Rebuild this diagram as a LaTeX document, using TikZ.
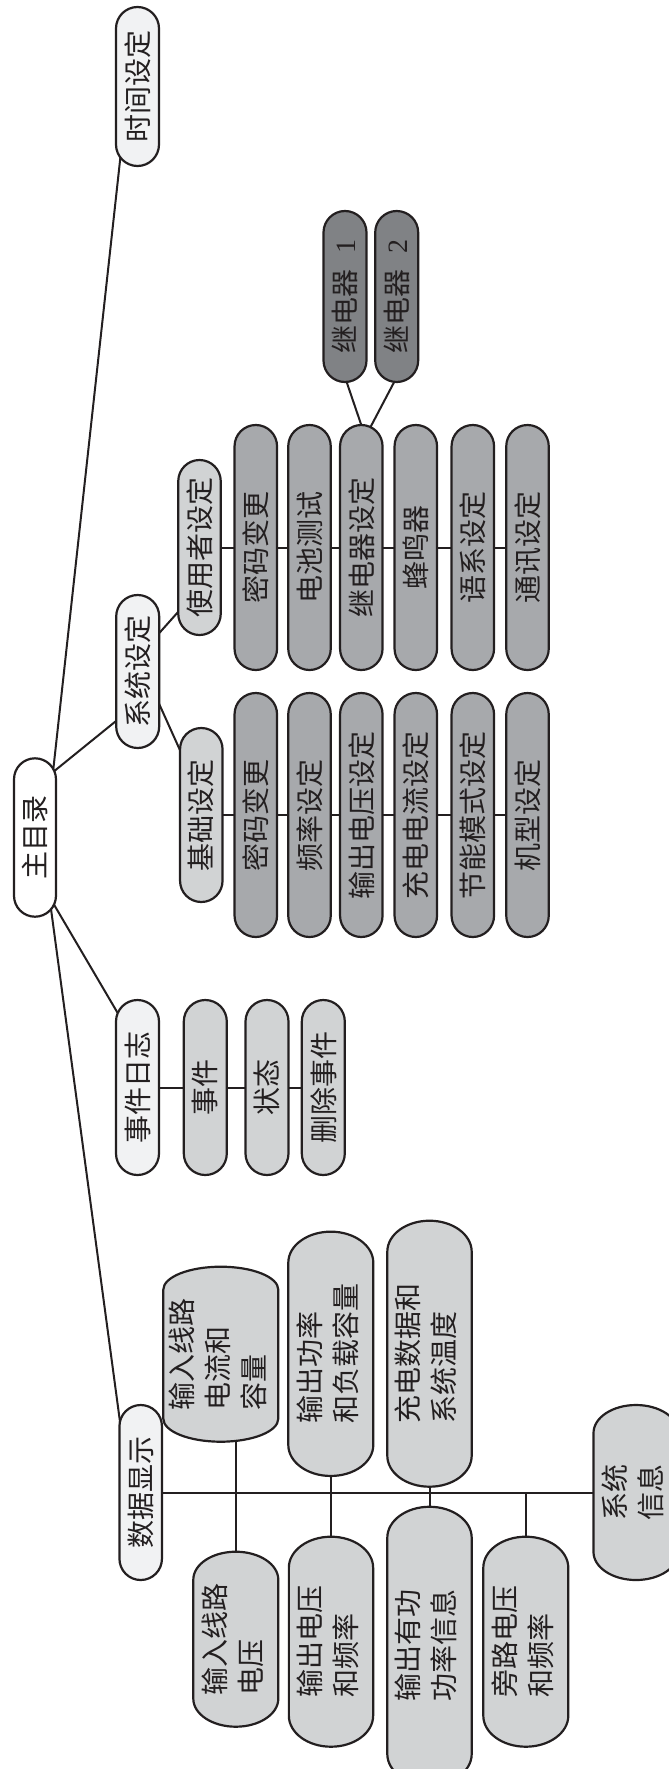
\documentclass[tikz,border=0pt]{standalone}
\usepackage{fontspec}
\usepackage{graphicx}
\setmainfont{Liberation Serif}
\newfontfamily\cjk{Noto Sans CJK SC}
\usetikzlibrary{calc}
\definecolor{cW}{HTML}{FFFFFF}
\definecolor{cF}{HTML}{F1F2F3}
\definecolor{cL}{HTML}{D1D3D4}
\definecolor{cM}{HTML}{A7A9AC}
\definecolor{cD}{HTML}{808285}
\definecolor{cT}{HTML}{231F20}
\pgfdeclarelayer{bg}
\pgfsetlayers{bg,main}
\tikzset{
  pillline/.style={draw=cT, line width=2.2pt},
  pilltext/.style={draw=none, inner sep=0pt, text=cT, font=\cjk\fontsize{28}{36}\selectfont},
  conn/.style={draw=cT, line width=2pt}
}
\newcommand\mypill[8]{%
  \pgfmathsetmacro\mpL{#2-#4/2}\pgfmathsetmacro\mpR{#2+#4/2}%
  \pgfmathsetmacro\mpT{#3-#5/2}\pgfmathsetmacro\mpB{#3+#5/2}%
  \pgfmathsetmacro\mpTa{\mpT+#6}\pgfmathsetmacro\mpBa{\mpB-#6}%
  \pgfmathsetmacro\mpTc{\mpT+#6-0.5523*#6}\pgfmathsetmacro\mpBc{\mpB-#6+0.5523*#6}%
  \pgfmathsetmacro\mpCl{#2-0.5523*#4/2}\pgfmathsetmacro\mpCr{#2+0.5523*#4/2}%
  \filldraw[pillline, fill=#7] (\mpL,\mpTa) .. controls (\mpL,\mpTc) and (\mpCl,\mpT) .. (#2,\mpT)
    .. controls (\mpCr,\mpT) and (\mpR,\mpTc) .. (\mpR,\mpTa) -- (\mpR,\mpBa)
    .. controls (\mpR,\mpBc) and (\mpCr,\mpB) .. (#2,\mpB)
    .. controls (\mpCl,\mpB) and (\mpL,\mpBc) .. (\mpL,\mpBa) -- cycle;
  \node[pilltext, minimum width=#4pt, minimum height=#5pt] (#1) at (#2,#3) {\rotatebox{90}{#8}};%
}
\newcommand\tl[1]{\begin{tabular}{@{}l@{}}#1\end{tabular}}
\begin{document}
\begin{tikzpicture}[x=1pt,y=-1pt]
\useasboundingbox (0,0) rectangle (669,1769);
\clip (0,0) rectangle (669,1769);
% top level
\mypill{time}{137.5}{86.5}{43}{159}{21.5}{cF}{时间设定}
\mypill{main}{35}{837.5}{42}{158.4}{21}{cW}{主目录}
\mypill{sys}{137.7}{671.5}{43}{153}{21.5}{cF}{系统设定}
\mypill{event}{137.5}{1087.5}{43}{175}{21.5}{cF}{事件日志}
\mypill{data}{140.7}{1492.5}{42.5}{175}{21.25}{cF}{数据显示}
% relays
\mypill{relay1}{345}{296.5}{43}{171}{21.5}{cD}{继电器\hspace{0.55em}{\rmfamily 1}}
\mypill{relay2}{396.7}{296.5}{43}{171}{21.5}{cD}{继电器\hspace{0.55em}{\rmfamily 2}}
% user settings
\mypill{usr}{199.5}{547.5}{42.5}{175}{21.25}{cL}{使用者设定}
\mypill{tr1}{255.8}{547.5}{42.5}{245}{21.25}{cM}{密码变更}
\mypill{tr2}{309.5}{547.5}{42.5}{245}{21.25}{cM}{电池测试}
\mypill{tr3}{361.3}{547.5}{42.5}{245}{21.25}{cM}{继电器设定}
\mypill{tr4}{415.8}{547.5}{42.5}{245}{21.25}{cM}{蜂鸣器}
\mypill{tr5}{472.8}{547.5}{42.5}{245}{21.25}{cM}{语系设定}
\mypill{tr6}{527.5}{547.5}{42.5}{245}{21.25}{cM}{通讯设定}
% basic settings
\mypill{basic}{201.3}{815}{42.5}{174}{21.25}{cL}{基础设定}
\mypill{br1}{255.8}{815}{42.5}{244}{21.25}{cM}{密码变更}
\mypill{br2}{309.5}{815}{42.5}{244}{21.25}{cM}{频率设定}
\mypill{br3}{361.3}{815}{42.5}{244}{21.25}{cM}{输出电压设定}
\mypill{br4}{415.8}{815}{42.5}{244}{21.25}{cM}{充电电流设定}
\mypill{br5}{472.8}{815}{42.5}{244}{21.25}{cM}{节能模式设定}
\mypill{br6}{527.5}{815}{42.5}{244}{21.25}{cM}{机型设定}
% event log
\mypill{ev1}{205.3}{1087.5}{43}{175}{21.5}{cL}{事件}
\mypill{ev2}{267}{1087.5}{43}{175}{21.5}{cL}{状态}
\mypill{ev3}{323.3}{1087.5}{43}{175}{21.5}{cL}{删除事件}
% data display
\mypill{in1}{220.8}{1354.2}{115}{175}{23}{cL}{\tl{输入线路\\电流和\\容量}}
\mypill{out1}{330.8}{1353.8}{85}{244.3}{31}{cL}{\tl{输出功率\\和负载容量}}
\mypill{chg}{429.5}{1353.7}{84.4}{266}{31}{cL}{\tl{充电数据和\\系统温度}}
\mypill{in2}{235.8}{1639.2}{85}{175}{28}{cL}{\tl{输入线路\\电压}}
\mypill{out2}{331}{1641.7}{84.3}{210}{31}{cL}{\tl{输出电压\\和频率}}
\mypill{act}{429.5}{1645.9}{84.4}{278.3}{31}{cL}{\tl{输出有功\\功率信息}}
\mypill{byp}{525.8}{1641.7}{85}{210}{31}{cL}{\tl{旁路电压\\和频率}}
\mypill{sysinfo}{636}{1492.5}{85}{175}{28}{cL}{\tl{系统\\信息}}
% connectors
\begin{pgfonlayer}{bg}
\draw[conn] ($(main.north)+(18,14)$) -- ($(time.south)+(-15.9,-20)$);
\draw[conn] ($(main.north)+(18,14)$) -- ($(sys.south)+(-15,-32.6)$);
\draw[conn] ($(main.south)+(18,-14)$) -- ($(event.north)+(-16.7,18.5)$);
\draw[conn] ($(main.south)+(16,-8)$) -- ($(data.north)+(-19,29.6)$);
\draw[conn] ($(sys.east)+(-3.4,-34.8)$) -- ($(usr.west)+(3.3,60.8)$);
\draw[conn] ($(sys.east)+(-0.8,31.2)$) -- ($(basic.west)+(2.1,-60.5)$);
\draw[conn] ($(relay1.south)+(0,-5)$) -- ($(tr3.north)+(2.1,6.4)$);
\draw[conn] ($(relay2.south)+(0,-5)$) -- ($(tr3.north)+(7.6,5.3)$);
\draw[conn] (usr) -- (tr1) -- (tr2) -- (tr3) -- (tr4) -- (tr5) -- (tr6);
\draw[conn] (basic) -- (br1) -- (br2) -- (br3) -- (br4) -- (br5) -- (br6);
\draw[conn] (event) -- (ev1) -- (ev2) -- (ev3);
\draw[conn] (data) -- (sysinfo);
\draw[conn] (in2) -- (in2 |- in1);
\draw[conn] (out2) -- (out2 |- out1);
\draw[conn] (act) -- (act |- chg);
\draw[conn] (byp) -- (byp |- data);
\end{pgfonlayer}
\end{tikzpicture}
\end{document}
